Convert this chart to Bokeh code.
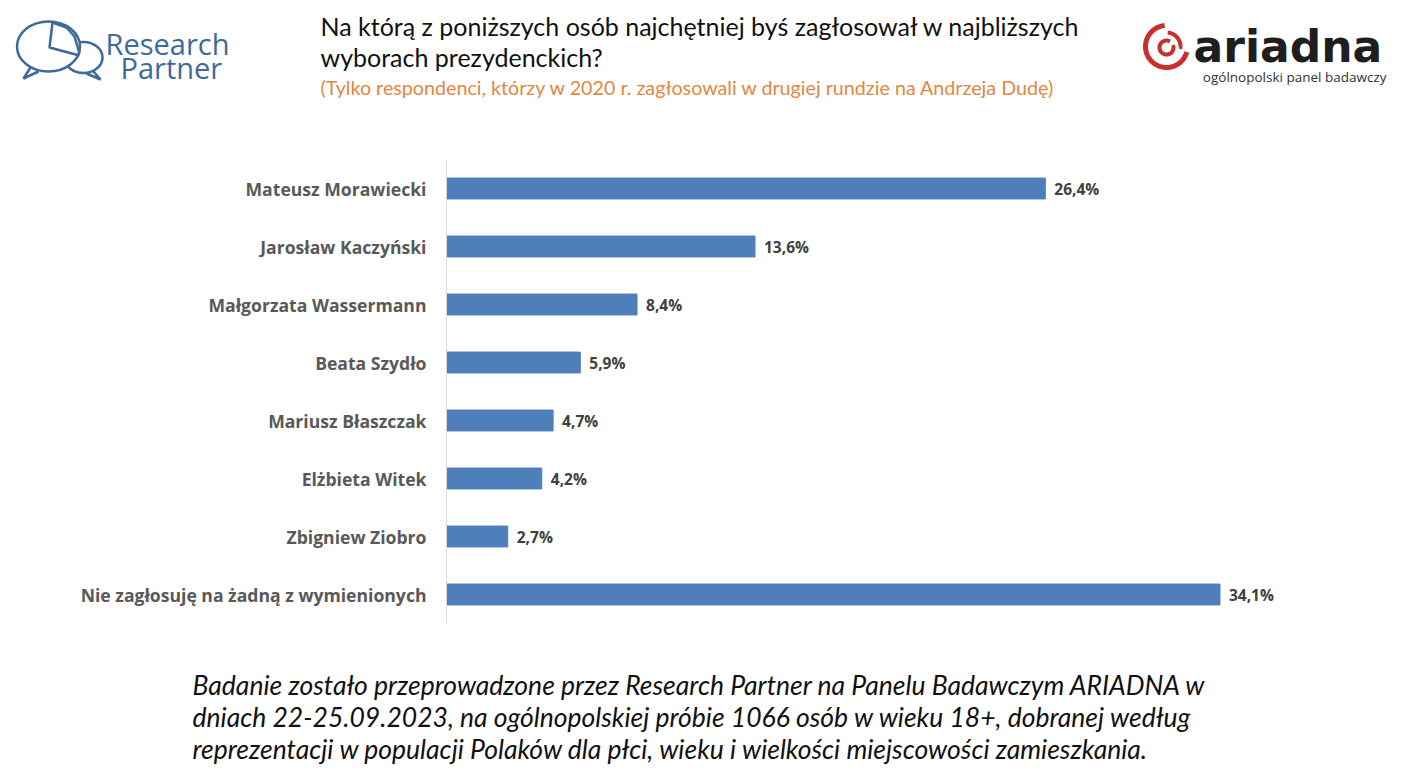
import numpy as np
from bokeh.plotting import figure
from bokeh.models import Range1d, FactorRange
from bokeh.layouts import column, row
from bokeh.core.properties import value
from bokeh.embed import file_html
from bokeh.resources import INLINE

# data
categories = ["Mateusz Morawiecki", "Jarosław Kaczyński", "Małgorzata Wassermann",
              "Beata Szydło", "Mariusz Błaszczak", "Elżbieta Witek",
              "Zbigniew Ziobro", "Nie zagłosuję na żadną z wymienionych"]
values = [26.4, 13.6, 8.4, 5.9, 4.7, 4.2, 2.7, 34.1]
value_labels = [("%.1f%%" % v).replace(".", ",") for v in values]

title_1 = "Na którą z poniższych osób najchętniej byś zagłosował w najbliższych"
title_2 = "wyborach prezydenckich?"
subtitle = "(Tylko respondenci, którzy w 2020 r. zagłosowali w drugiej rundzie na Andrzeja Dudę)"
footer = ["Badanie zostało przeprowadzone przez Research Partner na Panelu Badawczym ARIADNA w",
          "dniach 22-25.09.2023, na ogólnopolskiej próbie 1066 osób w wieku 18+, dobranej według",
          "reprezentacji w populacji Polaków dla płci, wieku i wielkości miejscowości zamieszkania."]

W = 1407
RP_BLUE = "#3D6A9B"
ARI_RED = "#C8302C"


def blank(h, y0, y1):
    f = figure(width=W, height=h, x_range=Range1d(0, W), y_range=Range1d(y1, y0),
               toolbar_location=None, output_backend="svg", min_border=0,
               x_axis_location=None, y_axis_location=None)
    f.outline_line_color = None
    f.xgrid.visible = False
    f.ygrid.visible = False
    return f


def ring(f, cx, cy, r, a0, a1, w):
    t = np.radians(np.linspace(a0, a1, 80))
    f.line(x=cx + r * np.cos(t), y=cy - r * np.sin(t), line_color=ARI_RED, line_width=w)


# header: data coords == picture pixels
head = blank(159, 0, 159)
head.text(x=[320], y=[25], text=[title_1], text_font=value("Lato"), text_font_size="25px",
          text_baseline="middle", text_color="#111111")
head.text(x=[320], y=[56], text=[title_2], text_font=value("Lato"), text_font_size="25px",
          text_baseline="middle", text_color="#111111")
head.text(x=[320], y=[87], text=[subtitle], text_font=value("Lato"), text_font_size="19.7px",
          text_baseline="middle", text_color="#E2873F")

# research partner logo
head.ellipse(x=[83], y=[57], width=[38], height=[31], fill_color="white",
             line_color=RP_BLUE, line_width=2.5)
head.line(x=[93, 100, 86], y=[71, 79, 73], line_color=RP_BLUE, line_width=2.5)
head.ellipse(x=[48], y=[46], width=[63], height=[50], fill_color="white",
             line_color=RP_BLUE, line_width=2.5)
head.line(x=[30, 23, 38], y=[67, 78, 71], line_color=RP_BLUE, line_width=2.5)
head.line(x=[52, 49, 79], y=[22, 47, 55], line_color=RP_BLUE, line_width=2.5)
head.line(x=[52, 66, 74, 79], y=[22, 27, 36, 53], line_color=RP_BLUE, line_width=2.5)
head.text(x=[105], y=[43], text=["Research"], text_font=value("Open Sans"),
          text_font_size="29px", text_baseline="middle", text_color=RP_BLUE)
head.text(x=[120], y=[67], text=["Partner"], text_font=value("Open Sans"),
          text_font_size="29px", text_baseline="middle", text_color=RP_BLUE)

# ariadna logo
ring(head, 1166, 46, 21, 95, 345, 5)
ring(head, 1166, 46, 14, -10, 85, 4)
ring(head, 1166, 47, 7, 60, 380, 4)
head.text(x=[1193], y=[46], text=["ariadna"], text_font=value("DejaVu Sans"), text_font_style="bold",
          text_font_size="44px", text_baseline="middle", text_color="#1E1E1E")
head.text(x=[1386], y=[76], text=["ogólnopolski panel badawczy"], text_font=value("Open Sans"),
          text_font_size="13.5px", text_baseline="middle", text_align="right", text_color="#333333")

# main bar chart
p = figure(width=W, height=470, y_range=FactorRange(*categories[::-1]), x_range=Range1d(0, 37.65),
           toolbar_location=None, output_backend="svg", x_axis_location=None,
           min_border_left=446, min_border_right=107, min_border_top=0, min_border_bottom=6)
p.outline_line_color = None
p.xgrid.visible = False
p.ygrid.visible = False
p.hbar(y=categories, right=values, height=0.36, color="#4E7FBB")
p.text(x=values, y=categories, text=value_labels, x_offset=9, text_baseline="middle",
       text_font=value("Open Sans"), text_font_style="bold", text_font_size="15.5px",
       text_color="#404040")
p.yaxis.axis_line_color = "#D9D9D9"
p.yaxis.major_tick_line_color = None
p.yaxis.minor_tick_line_color = None
p.yaxis.major_tick_out = 0
p.yaxis.major_tick_in = 0
p.yaxis.major_label_standoff = 20
p.yaxis.major_label_text_font = "Open Sans"
p.yaxis.major_label_text_font_style = "bold"
p.yaxis.major_label_text_font_size = "17.6px"
p.yaxis.major_label_text_color = "#595959"

# footer note
foot = blank(155, 629, 784)
foot.text(x=[192] * 3, y=[684, 716, 748], text=footer, text_font=value("Lato"),
          text_font_style="italic", text_font_size="26.5px", text_baseline="middle",
          text_color="#111111")

# wrap each figure so the column does not line up their frames
page = column(row(head), row(p), row(foot), spacing=0)
open("out.html", "w").write(file_html(page, INLINE))
